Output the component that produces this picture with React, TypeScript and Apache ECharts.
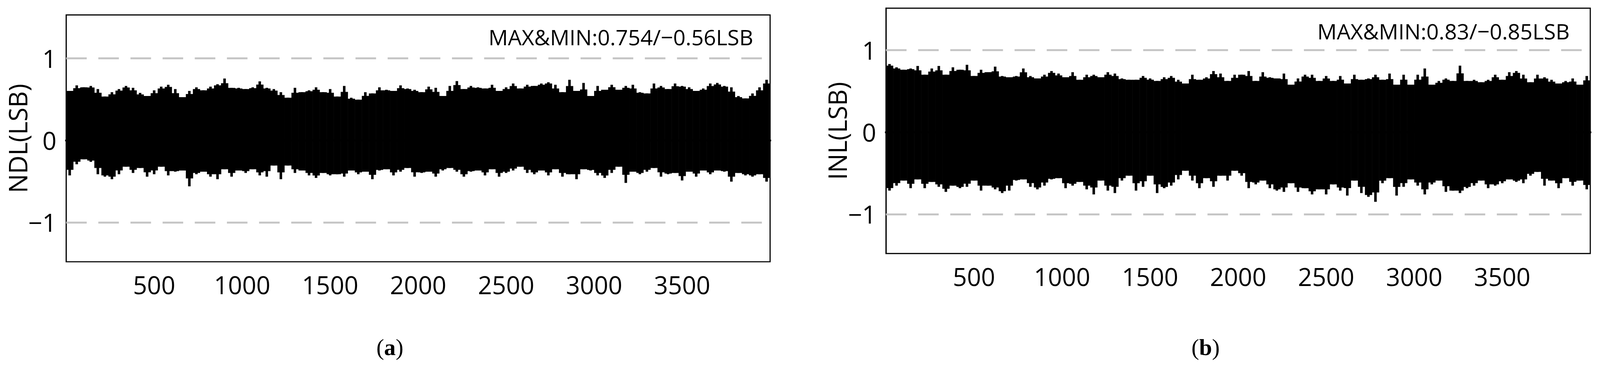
import React, { useEffect, useRef } from "react";
import * as echarts from "echarts";

// 采样步长（码值），每个采样点代表 40 个码的包络
const CODE_STEP = 40;
const CODE_MAX = 4000;
// 参考图的设计尺寸，实际尺寸按容器宽度缩放
const DESIGN_W = 4280;

// (a) NDL 上/下包络
const NDL_UPPER = [
  0.603, 0.671, 0.648, 0.664, 0.626, 0.535, 0.588, 0.626, 0.664, 0.641,
  0.58, 0.542, 0.611, 0.656, 0.679, 0.626, 0.527, 0.603, 0.648, 0.611,
  0.656, 0.686, 0.754, 0.64, 0.641, 0.626, 0.648, 0.72, 0.641, 0.626,
  0.588, 0.52, 0.641, 0.588, 0.611, 0.648, 0.588, 0.626, 0.535, 0.664,
  0.52, 0.497, 0.588, 0.573, 0.648, 0.618, 0.603, 0.671, 0.633, 0.618,
  0.588, 0.656, 0.641, 0.542, 0.664, 0.724, 0.626, 0.664, 0.648, 0.633,
  0.679, 0.603, 0.648, 0.694, 0.633, 0.679, 0.664, 0.694, 0.709, 0.679,
  0.588, 0.739, 0.603, 0.701, 0.542, 0.664, 0.618, 0.679, 0.618, 0.664,
  0.679, 0.588, 0.573, 0.694, 0.664, 0.626, 0.694, 0.664, 0.648, 0.603,
  0.633, 0.694, 0.701, 0.664, 0.648, 0.542, 0.512, 0.573, 0.648, 0.739,
];
const NDL_LOWER = [
  -0.427, -0.291, -0.23, -0.261, -0.412, -0.442, -0.473, -0.412, -0.321, -0.397,
  -0.336, -0.442, -0.412, -0.321, -0.427, -0.382, -0.367, -0.56, -0.412, -0.382,
  -0.442, -0.473, -0.352, -0.442, -0.367, -0.397, -0.352, -0.427, -0.442, -0.306,
  -0.473, -0.306, -0.397, -0.367, -0.427, -0.458, -0.397, -0.427, -0.412, -0.442,
  -0.367, -0.412, -0.382, -0.473, -0.367, -0.352, -0.427, -0.382, -0.336, -0.442,
  -0.397, -0.382, -0.442, -0.367, -0.336, -0.382, -0.442, -0.382, -0.367, -0.427,
  -0.352, -0.442, -0.397, -0.367, -0.321, -0.397, -0.412, -0.367, -0.427, -0.352,
  -0.442, -0.412, -0.473, -0.352, -0.367, -0.427, -0.458, -0.397, -0.321, -0.518,
  -0.382, -0.412, -0.382, -0.336, -0.442, -0.412, -0.397, -0.488, -0.382, -0.442,
  -0.367, -0.412, -0.367, -0.382, -0.503, -0.397, -0.427, -0.442, -0.412, -0.503,
];

// (b) INL 上/下包络
const INL_UPPER = [
  0.83, 0.79, 0.76, 0.775, 0.806, 0.699, 0.775, 0.806, 0.699, 0.79,
  0.76, 0.821, 0.684, 0.76, 0.73, 0.798, 0.684, 0.669, 0.684, 0.775,
  0.684, 0.654, 0.699, 0.745, 0.714, 0.669, 0.73, 0.638, 0.699, 0.699,
  0.669, 0.73, 0.714, 0.654, 0.638, 0.638, 0.684, 0.654, 0.623, 0.669,
  0.684, 0.638, 0.593, 0.699, 0.638, 0.669, 0.745, 0.714, 0.623, 0.699,
  0.699, 0.745, 0.623, 0.73, 0.669, 0.654, 0.714, 0.578, 0.654, 0.699,
  0.699, 0.623, 0.684, 0.623, 0.684, 0.593, 0.699, 0.638, 0.654, 0.699,
  0.638, 0.714, 0.578, 0.699, 0.578, 0.699, 0.775, 0.578, 0.623, 0.654,
  0.623, 0.81, 0.623, 0.638, 0.608, 0.638, 0.699, 0.638, 0.73, 0.745,
  0.699, 0.608, 0.699, 0.669, 0.638, 0.593, 0.623, 0.654, 0.578, 0.684,
];
const INL_LOWER = [
  -0.713, -0.652, -0.591, -0.683, -0.576, -0.683, -0.607, -0.667, -0.728, -0.652,
  -0.683, -0.667, -0.591, -0.713, -0.652, -0.698, -0.743, -0.713, -0.591, -0.576,
  -0.667, -0.698, -0.652, -0.576, -0.561, -0.683, -0.652, -0.607, -0.698, -0.759,
  -0.591, -0.713, -0.743, -0.591, -0.531, -0.713, -0.667, -0.531, -0.743, -0.683,
  -0.652, -0.576, -0.47, -0.591, -0.683, -0.561, -0.667, -0.531, -0.591, -0.47,
  -0.531, -0.683, -0.637, -0.591, -0.683, -0.713, -0.728, -0.622, -0.728, -0.683,
  -0.759, -0.698, -0.759, -0.637, -0.713, -0.774, -0.591, -0.743, -0.789, -0.85,
  -0.622, -0.561, -0.774, -0.667, -0.576, -0.652, -0.759, -0.637, -0.591, -0.728,
  -0.713, -0.743, -0.683, -0.652, -0.591, -0.683, -0.652, -0.622, -0.576, -0.607,
  -0.622, -0.531, -0.485, -0.652, -0.591, -0.683, -0.561, -0.652, -0.591, -0.698,
];

const Y_TICKS = [-1, 0, 1];
const LIMIT_LINES = [1, -1];
const NOTES = ["MAX&MIN:0.754/\u22120.56LSB", "MAX&MIN:0.83/\u22120.85LSB"];
const CAPTIONS = ["a", "b"];

const FONT = "'Open Sans', 'Noto Sans', sans-serif";
const SERIF = "'Liberation Serif', 'DejaVu Serif', serif";

// 把包络数组转成 [码值, 下限, 上限]
const toBand = (upper: number[], lower: number[]) =>
  upper.map((u, i) => [CODE_STEP * i + CODE_STEP / 2, lower[i], u]);

const buildOption = (s: number) => {
  const k = (v: number) => v * s;

  const bandSeries = (idx: number, upper: number[], lower: number[]) => ({
    type: "custom",
    xAxisIndex: idx,
    yAxisIndex: idx,
    data: toBand(upper, lower),
    encode: { x: 0, y: [1, 2] },
    renderItem: (params: any, api: any) => {
      const i = params.dataIndexInside;
      const n = upper.length;
      const x = api.value(0);
      const lo = api.value(1);
      const hi = api.value(2);
      // 实心部分取本采样与相邻较小幅值的中间，尖刺画到本采样的值
      const nb = [Math.max(0, i - 1), Math.min(n - 1, i + 1)];
      const coreHi = (hi + Math.min(hi, upper[nb[0]], upper[nb[1]])) / 2;
      const coreLo = (lo + Math.max(lo, lower[nb[0]], lower[nb[1]])) / 2;
      const a = api.coord([x - CODE_STEP / 2, coreHi]);
      const b = api.coord([x + CODE_STEP / 2, coreLo]);
      const t = api.coord([x - CODE_STEP * 0.18, hi]);
      const u = api.coord([x + CODE_STEP * 0.18, lo]);
      return {
        type: "group",
        children: [
          {
            type: "rect",
            shape: { x: a[0], y: a[1], width: b[0] - a[0] + 0.6, height: b[1] - a[1] },
            style: { fill: "#000" },
          },
          {
            type: "rect",
            shape: { x: t[0], y: t[1], width: u[0] - t[0], height: u[1] - t[1] },
            style: { fill: "#000" },
          },
        ],
      };
    },
    markLine: {
      silent: true,
      symbol: "none",
      label: { show: false },
      lineStyle: { color: "#c6c6c6", width: k(5), type: [k(55), k(31)] },
      data: LIMIT_LINES.map((v) => ({ yAxis: v })),
    },
  });

  const xAxisOf = (idx: number) => ({
    gridIndex: idx,
    type: "value",
    min: 0,
    max: CODE_MAX,
    interval: 500,
    axisLine: { show: true, lineStyle: { color: "#000", width: k(6) } },
    axisTick: { show: true, inside: true, length: k(23), lineStyle: { color: "#000", width: k(2.5) } },
    axisLabel: {
      showMinLabel: false,
      showMaxLabel: false,
      formatter: (v: number) => String(v),
      margin: k(28),
      fontSize: k(66),
      color: "#000",
      fontFamily: FONT,
    },
    splitLine: { show: false },
  });

  const yAxisOf = (idx: number, name: string, min: number, max: number) => ({
    gridIndex: idx,
    type: "value",
    min,
    max,
    name,
    nameLocation: "middle",
    nameGap: k(97),
    nameMoveOverlap: false,
    nameTextStyle: { fontSize: k(68), color: "#000", fontFamily: FONT },
    axisLine: { show: true, lineStyle: { color: "#000", width: k(3) } },
    axisTick: { show: false },
    splitLine: { show: false },
    axisLabel: {
      customValues: Y_TICKS,
      formatter: (v: number) => (v < 0 ? "\u2212" + Math.abs(v) : String(v)),
      margin: k(26),
      fontSize: k(66),
      color: "#000",
      fontFamily: FONT,
    },
  });

  const note = (i: number, x: number, y: number) => ({
    type: "text",
    x: k(x),
    y: k(y),
    style: {
      text: NOTES[i],
      fill: "#000",
      fontSize: k(58),
      fontFamily: FONT,
      align: "right",
      verticalAlign: "middle",
    },
  });

  return {
    animation: false,
    backgroundColor: "#fff",
    grid: [
      { left: k(177), top: k(40), width: k(1883), height: k(661), show: true, borderColor: "#000", borderWidth: k(3) },
      { left: k(2370), top: k(22), width: k(1884), height: k(657), show: true, borderColor: "#000", borderWidth: k(3) },
    ],
    xAxis: [xAxisOf(0), xAxisOf(1)],
    yAxis: [yAxisOf(0, "NDL(LSB)", -1.48, 1.53), yAxisOf(1, "INL(LSB)", -1.48, 1.51)],
    series: [bandSeries(0, NDL_UPPER, NDL_LOWER), bandSeries(1, INL_UPPER, INL_LOWER)],
    graphic: [
      note(0, 2015, 99),
      note(1, 4199, 83),
      ...CAPTIONS.map((c, i) => ({
        type: "text",
        x: k(i === 0 ? 1043 : 3225),
        y: k(930),
        style: {
          text: `{p|(}{l|${c}}{p|)}`,
          align: "center",
          verticalAlign: "middle",
          rich: {
            p: { fontSize: k(62), fontFamily: SERIF, fill: "#000" },
            l: { fontSize: k(62), fontFamily: SERIF, fontWeight: "bold", fill: "#000" },
          },
        },
      })),
    ],
  };
};

const App: React.FC = () => {
  const chartRef = useRef<HTMLDivElement>(null);

  useEffect(() => {
    document.body.style.margin = "0";
    document.body.style.overflow = "hidden";
    const el = chartRef.current as HTMLDivElement;
    const s = el.clientWidth / DESIGN_W;
    const chart = echarts.init(el, null, { renderer: "svg" });
    chart.setOption(buildOption(s) as any);
    return () => {
      chart.dispose();
    };
  }, []);

  return <div ref={chartRef} style={{ width: "100vw", height: "100vh" }} />;
};

export default App;
